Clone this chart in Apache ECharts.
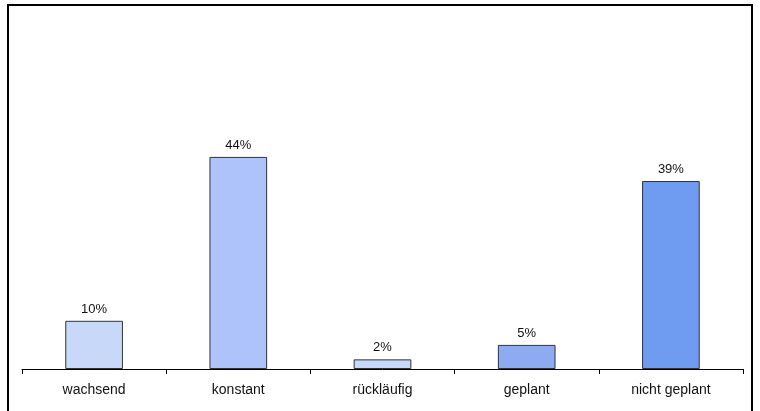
<!DOCTYPE html>
<html>
<head>
<meta charset="utf-8">
<script src="https://cdn.jsdelivr.net/npm/echarts@6/dist/echarts.min.js"></script>
<style>
  html, body { margin: 0; padding: 0; background: #fff; }
  #chart { width: 760px; height: 411px; }
</style>
</head>
<body>
<div id="chart"></div>
<script>
// Entwicklung – Anteile je Kategorie (in %)
const categories = ['wachsend', 'konstant', 'rückläufig', 'geplant', 'nicht geplant'];
const values = [10, 44, 2, 5, 39];
const barColors = ['#c7d8f8', '#adc3f9', '#c7d8f8', '#8eabf2', '#6f9bf0'];

const chart = echarts.init(document.getElementById('chart'));

chart.setOption({
  animation: false,
  backgroundColor: '#ffffff',
  textStyle: { fontFamily: 'Liberation Sans, Arial, sans-serif' },
  grid: { left: 22, right: 17, top: 128, bottom: 42 },
  xAxis: {
    type: 'category',
    data: categories,
    boundaryGap: true,
    axisLine: { show: true, lineStyle: { color: '#000', width: 1 } },
    axisTick: { show: true, alignWithLabel: false, length: 5, lineStyle: { color: '#000' } },
    axisLabel: { color: '#111', fontSize: 14, margin: 14 }
  },
  yAxis: {
    type: 'value',
    min: 0,
    max: 50,
    show: false,
    splitLine: { show: false }
  },
  series: [{
    type: 'bar',
    barWidth: '40%',
    data: values.map((v, i) => ({
      value: v,
      itemStyle: { color: barColors[i], borderColor: '#333', borderWidth: 1 }
    })),
    label: {
      show: true,
      position: 'top',
      distance: 5,
      color: '#111',
      fontSize: 13,
      formatter: p => p.value + '%'
    }
  }],
  graphic: [{
    type: 'rect',
    shape: { x: 8, y: 5, width: 744, height: 430 },
    style: { fill: 'none', stroke: '#000', lineWidth: 2 },
    silent: true
  }]
});
</script>
</body>
</html>
